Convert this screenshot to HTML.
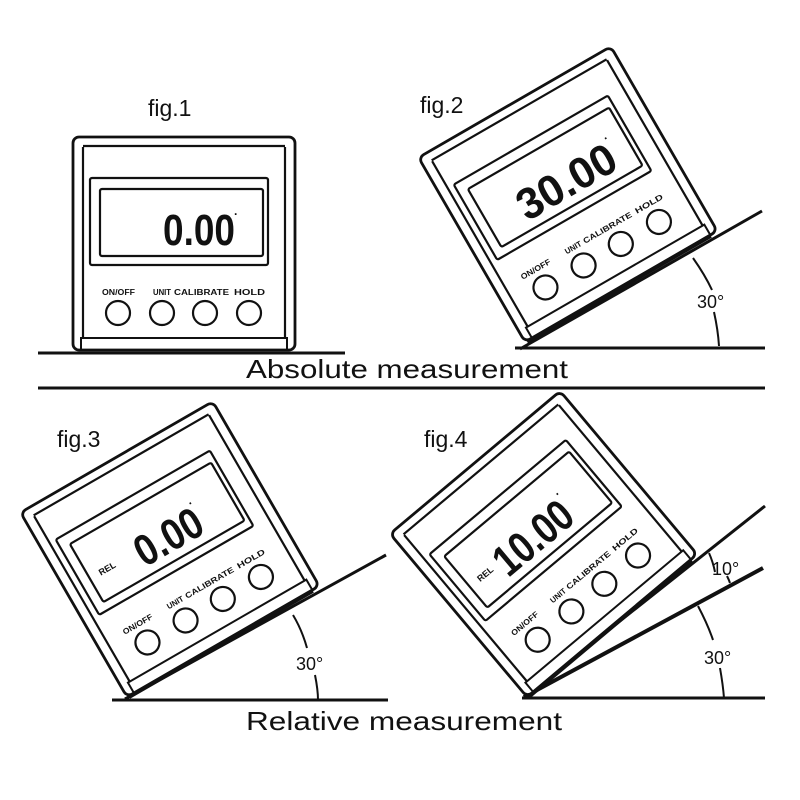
<!DOCTYPE html>
<html><head><meta charset="utf-8"><style>
html,body{margin:0;padding:0;background:#fff;width:800px;height:800px;overflow:hidden}
svg{display:block}
text{font-family:"Liberation Sans",Arial,sans-serif;fill:#111}
.dg{font-family:"Liberation Sans Narrow","Liberation Sans",sans-serif;font-weight:bold}
</style></head><body>
<svg width="800" height="800" viewBox="0 0 800 800" xmlns="http://www.w3.org/2000/svg">
<defs>
<g id="dev" fill="none" stroke="#111" stroke-width="2.2">
  <rect x="0" y="-213" width="222" height="213" rx="6" fill="#fff" stroke-width="2.8"/>
  <line x1="10" y1="-203" x2="10" y2="-12"/>
  <line x1="212" y1="-203" x2="212" y2="-12"/>
  <line x1="10" y1="-204" x2="212" y2="-204"/>
  <rect x="17" y="-172" width="178" height="87" rx="2"/>
  <rect x="27" y="-161" width="163" height="67" rx="2"/>
  <rect x="8" y="-12" width="206" height="12" stroke-width="2"/>
  <circle cx="45" cy="-37" r="12"/>
  <circle cx="89" cy="-37" r="12"/>
  <circle cx="132" cy="-37" r="12"/>
  <circle cx="176" cy="-37" r="12"/>
  <g stroke="none" fill="#111" font-weight="bold" font-size="8">
    <text x="29" y="-55" textLength="33" lengthAdjust="spacingAndGlyphs">ON/OFF</text>
    <text x="80" y="-55" textLength="18" lengthAdjust="spacingAndGlyphs">UNIT</text>
    <text x="101" y="-55" textLength="55" lengthAdjust="spacingAndGlyphs">CALIBRATE</text>
    <text x="161" y="-55" textLength="31" lengthAdjust="spacingAndGlyphs">HOLD</text>
  </g>
</g>
</defs>

<!-- fig 1 -->
<text x="148" y="116" font-size="23">fig.1</text>
<use href="#dev" transform="translate(73,350)"/>
<text class="dg" x="163" y="245" font-size="44" textLength="72" lengthAdjust="spacingAndGlyphs">0.00</text>
<text x="234" y="218" font-size="12" font-weight="bold">·</text>
<line x1="38" y1="353" x2="345" y2="353" stroke="#111" stroke-width="3"/>

<!-- fig 2 -->
<text x="420" y="113" font-size="23">fig.2</text>
<line x1="515" y1="348" x2="765" y2="348" stroke="#111" stroke-width="3"/>
<line x1="520" y1="349" x2="762" y2="211" stroke="#111" stroke-width="3"/>
<g transform="translate(525,342) rotate(-30)">
  <use href="#dev"/>
  <text class="dg" x="62" y="-103" font-size="44" textLength="108" lengthAdjust="spacingAndGlyphs">30.00</text>
  <text x="170" y="-132" font-size="12" font-weight="bold">·</text>
  <line x1="2" y1="1" x2="214" y2="1" stroke="#111" stroke-width="4"/>
</g>
<path d="M693 258 Q705 275 712 290" fill="none" stroke="#111" stroke-width="2"/>
<path d="M714 312 Q718 330 719 346" fill="none" stroke="#111" stroke-width="2"/>
<text x="697" y="308" font-size="18">30°</text>

<!-- separator + title -->
<text x="246" y="378" font-size="26" textLength="322" lengthAdjust="spacingAndGlyphs">Absolute measurement</text>
<line x1="38" y1="388" x2="765" y2="388" stroke="#111" stroke-width="3"/>

<!-- fig 3 -->
<text x="57" y="447" font-size="23">fig.3</text>
<line x1="112" y1="700" x2="388" y2="700" stroke="#111" stroke-width="3"/>
<line x1="125" y1="699" x2="386" y2="555" stroke="#111" stroke-width="3"/>
<g transform="translate(127,697) rotate(-30)">
  <use href="#dev"/>
  <text x="38" y="-118" font-size="9" font-weight="bold">REL</text>
  <text class="dg" x="80" y="-103" font-size="44" textLength="72" lengthAdjust="spacingAndGlyphs">0.00</text>
  <text x="150" y="-132" font-size="12" font-weight="bold">·</text>
  <line x1="2" y1="1" x2="214" y2="1" stroke="#111" stroke-width="4"/>
</g>
<path d="M293 615 Q302 630 307 648" fill="none" stroke="#111" stroke-width="2"/>
<path d="M315 675 Q318 690 318 700" fill="none" stroke="#111" stroke-width="2"/>
<text x="296" y="670" font-size="18">30°</text>

<!-- fig 4 -->
<text x="424" y="447" font-size="23">fig.4</text>
<line x1="522" y1="698" x2="765" y2="698" stroke="#111" stroke-width="3"/>
<line x1="524" y1="697" x2="765" y2="506" stroke="#111" stroke-width="3"/>
<line x1="524" y1="697" x2="763" y2="568" stroke="#111" stroke-width="4"/>
<g transform="translate(527,697) rotate(-40)">
  <use href="#dev"/>
  <text x="38" y="-118" font-size="9" font-weight="bold">REL</text>
  <text class="dg" x="62" y="-103" font-size="44" textLength="90" lengthAdjust="spacingAndGlyphs">10.00</text>
  <text x="152" y="-132" font-size="12" font-weight="bold">·</text>
  <line x1="2" y1="1" x2="214" y2="1" stroke="#111" stroke-width="4"/>
</g>
<path d="M709 553 Q713 562 715 572" fill="none" stroke="#111" stroke-width="2"/>
<path d="M727 576 Q729 580 730 583" fill="none" stroke="#111" stroke-width="2"/>
<text x="712" y="575" font-size="18">10°</text>
<path d="M698 606 Q708 625 713 640" fill="none" stroke="#111" stroke-width="2"/>
<path d="M720 668 Q723 685 724 698" fill="none" stroke="#111" stroke-width="2"/>
<text x="704" y="664" font-size="18">30°</text>

<text x="246" y="730" font-size="26" textLength="316" lengthAdjust="spacingAndGlyphs">Relative measurement</text>
</svg>
</body></html>
